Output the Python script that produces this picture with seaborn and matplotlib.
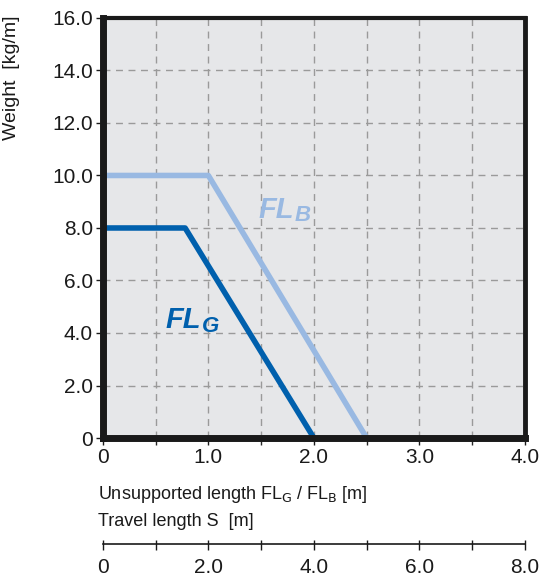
import numpy as np
import pandas as pd
import seaborn as sns
import matplotlib.pyplot as plt
from matplotlib.ticker import MultipleLocator

# Curve data
fl_g_x = [0.0, 0.78, 2.0]
fl_g_y = [8.0, 8.0, 0.0]
fl_b_x = [0.0, 1.0, 2.5]
fl_b_y = [10.0, 10.0, 0.0]

y_ticks = [0, 2, 4, 6, 8, 10, 12, 14, 16]
y_labels = ["0", "2.0", "4.0", "6.0", "8.0", "10.0", "12.0", "14.0", "16.0"]
x_ticks = [0, 1, 2, 3, 4]
x_labels = ["0", "1.0", "2.0", "3.0", "4.0"]
s_ticks = [0, 2, 4, 6, 8]
s_labels = ["0", "2.0", "4.0", "6.0", "8.0"]

dark_blue = "#0060ad"
light_blue = "#99b9e2"

sns.set_theme(style="white")
plt.rcParams['font.family'] = ['Liberation Sans', 'DejaVu Sans']

df = pd.concat([
    pd.DataFrame({"x": fl_b_x, "y": fl_b_y, "curve": "FL_B"}),
    pd.DataFrame({"x": fl_g_x, "y": fl_g_y, "curve": "FL_G"}),
])

fig = plt.figure(figsize=(5.44, 5.79), dpi=100)
ax = fig.add_axes([0.189, 0.2435, 0.776, 0.7255])
ax.set_facecolor("#e6e7e9")

sns.lineplot(data=df, x="x", y="y", hue="curve", palette={"FL_B": light_blue, "FL_G": dark_blue},
             linewidth=4, legend=False, ax=ax, sort=False, estimator=None)

ax.set_xlim(0, 4)
ax.set_ylim(0, 16)
ax.set_xticks(x_ticks)
ax.set_xticklabels(x_labels)
ax.set_yticks(y_ticks)
ax.set_yticklabels(y_labels)
ax.xaxis.set_minor_locator(MultipleLocator(0.5))
ax.tick_params(axis="both", labelsize=15, colors="#1a1a1a", length=5, width=1, direction="out",
               bottom=True, left=True, pad=2)
ax.tick_params(axis="x", which="minor", length=5, width=1, bottom=True)
ax.grid(True, which="both", color="#9a9a9a", linestyle=(0, (5, 4)), linewidth=1)
ax.set_xlabel("")
ax.set_ylabel("Weight  [kg/m]", fontsize=14, color="#1a1a1a")
ax.yaxis.set_label_coords(-0.197, 0.857)

for side, w in [("left", 5), ("bottom", 5), ("right", 3.5), ("top", 3)]:
    ax.spines[side].set_color("#1a1a1a")
    ax.spines[side].set_linewidth(w)

# curve labels: main letters plus a smaller subscript letter
for txt, sub, x, y, col in [("FL", "B", 1.64, 8.7, light_blue), ("FL", "G", 0.76, 4.5, dark_blue)]:
    t = ax.text(x, y, txt, color=col, fontsize=21, fontweight="bold", fontstyle="italic",
                ha="center", va="center")
    ax.annotate(sub, xy=(1, 0), xycoords=t, xytext=(1, -2), textcoords="offset points",
                color=col, fontsize=16, fontweight="bold", fontstyle="italic",
                ha="left", va="bottom")

narrow = ['Liberation Sans Narrow', 'Liberation Sans']
fig.text(0.181, 0.146, "Unsupported length FL$_\\mathrm{G}$ / FL$_\\mathrm{B}$ [m]", fontsize=13,
         family=narrow, color="#1a1a1a", va="center")
fig.text(0.181, 0.100, "Travel length S  [m]", fontsize=13, family=narrow, color="#1a1a1a",
         va="center")

# secondary travel length scale
ax2 = fig.add_axes([0.189, 0.059, 0.776, 0.001])
ax2.set_xlim(0, 8)
ax2.set_xticks(s_ticks)
ax2.set_xticklabels(s_labels)
ax2.xaxis.set_minor_locator(MultipleLocator(1))
ax2.set_yticks([])
for side in ["left", "right", "bottom"]:
    ax2.spines[side].set_visible(False)
ax2.spines["top"].set_linewidth(1.2)
ax2.spines["top"].set_color("#1a1a1a")
ax2.tick_params(axis="x", which="both", bottom=True, top=False, direction="inout", length=7,
                width=1, labelsize=15, colors="#1a1a1a", pad=6)
ax2.set_facecolor("none")

fig.savefig("out.png", dpi=100)
